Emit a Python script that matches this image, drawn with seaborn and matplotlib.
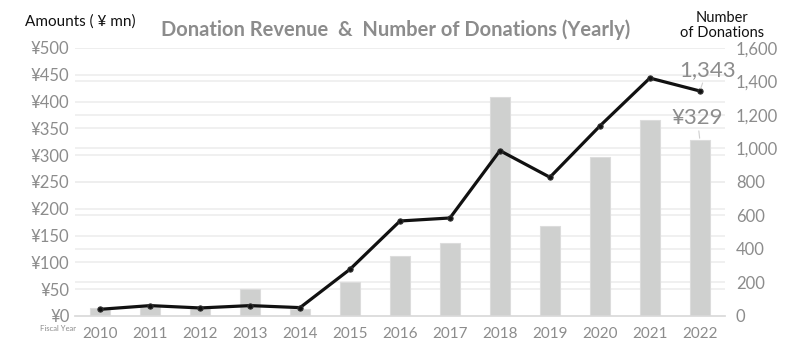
import matplotlib
matplotlib.use("Agg")
import matplotlib.pyplot as plt
import matplotlib.transforms as mtransforms
import seaborn as sns
import numpy as np
import pandas as pd

years = ["2010", "2011", "2012", "2013", "2014", "2015", "2016", "2017",
         "2018", "2019", "2020", "2021", "2022"]
revenue = [15, 17, 16, 50, 13, 64, 112, 137, 409, 168, 297, 366, 329]
donations = [40, 62, 48, 62, 50, 279, 567, 585, 987, 828, 1134, 1420, 1343]
left_ticks = [0, 50, 100, 150, 200, 250, 300, 350, 400, 450, 500]
right_ticks = [0, 200, 400, 600, 800, 1000, 1200, 1400, 1600]

sns.set_theme(style="white")
plt.rcParams['font.family'] = ['Lato', 'DejaVu Sans']

df = pd.DataFrame({"year": years, "revenue": revenue, "donations": donations})
df["pos"] = np.arange(len(years))

fig = plt.figure(figsize=(8, 3.63), dpi=100)
ax = fig.add_axes([0.094, 0.1295, 0.812, 0.7385])
ax2 = ax.twinx()

grid_c = "#eeeeee"
tick_c = "#8c8c8c"

ax.set_ylim(0, 500)
ax2.set_ylim(0, 1600)
ax.set_xlim(-0.5, len(years) - 0.5)
ax2.set_xlim(-0.5, len(years) - 0.5)

# gridlines of both axes drawn beneath the bars
for v in left_ticks[1:]:
    ax.axhline(v, color=grid_c, lw=1.2, zorder=0)
tr = mtransforms.blended_transform_factory(ax.transAxes, ax2.transData)
for v in right_ticks[1:]:
    ax.plot([0, 1], [v, v], transform=tr, color=grid_c, lw=1.2, zorder=0)

sns.barplot(data=df, x="year", y="revenue", ax=ax, color="#cfd0cf",
            width=0.4, edgecolor="#dcdcdc", linewidth=0.8, saturation=1, zorder=2)
ax.set_ylim(0, 500)
ax.set_xlim(-0.5, len(years) - 0.5)
ax.set_yticks(left_ticks)
ax.set_yticklabels([f"¥{v}" for v in left_ticks])
ax.set_xlabel("")
ax.set_ylabel("")

sns.lineplot(data=df, x="pos", y="donations", ax=ax2, color="#111111", lw=2.3,
             marker="o", markersize=3.8, markeredgecolor="#333333", zorder=3)
ax2.set_ylim(0, 1600)
ax2.set_xlim(-0.5, len(years) - 0.5)
ax2.set_yticks(right_ticks)
ax2.set_yticklabels([f"{v:,}" for v in right_ticks])
ax2.set_ylabel("")

for a in (ax, ax2):
    for s in a.spines.values():
        s.set_visible(False)
    a.tick_params(axis="both", length=0, labelcolor=tick_c)
ax.tick_params(axis="x", pad=8, labelsize=11)
ax.tick_params(axis="y", pad=4, labelsize=12)
ax2.tick_params(axis="y", pad=8, labelsize=12)
ax.spines["bottom"].set_visible(True)
ax.spines["bottom"].set_color("#d9d9d9")

ax.set_zorder(1)
ax2.set_zorder(2)
ax.patch.set_visible(False)
ax2.patch.set_visible(False)

# data labels with leader lines
last = len(years) - 1
ax2.annotate(f"{donations[-1]:,}", xy=(last, donations[-1]), xytext=(last + 0.15, 1470),
             ha="center", va="center", fontsize=16, color="#8c8c8c",
             arrowprops=dict(arrowstyle="-", color="#d0d0d0", lw=0.8, shrinkA=10, shrinkB=2))
ax2.annotate(f"¥{revenue[-1]}", xy=(last, revenue[-1]), xycoords=ax.transData,
             xytext=(last - 0.05, 370), textcoords=ax.transData,
             ha="center", va="center", fontsize=16, color="#8c8c8c",
             arrowprops=dict(arrowstyle="-", color="#d0d0d0", lw=0.8, shrinkA=9, shrinkB=1))

fig.text(0.495, 0.918, "Donation Revenue  &  Number of Donations (Yearly)", ha="center", va="center",
         fontsize=14.5, fontweight="bold", color="#8c8c8c")
fig.text(0.031, 0.94, "Amounts ( ¥ mn)", ha="left", va="center", fontsize=11, color="#111111")
fig.text(0.903, 0.93, "Number\nof Donations", ha="center", va="center", fontsize=10.5,
         color="#111111", linespacing=1.1)
fig.text(0.05, 0.095, "Fiscal Year", ha="left", va="center", fontsize=5.5, color="#8c8c8c")

fig.savefig("out.png", dpi=100)
